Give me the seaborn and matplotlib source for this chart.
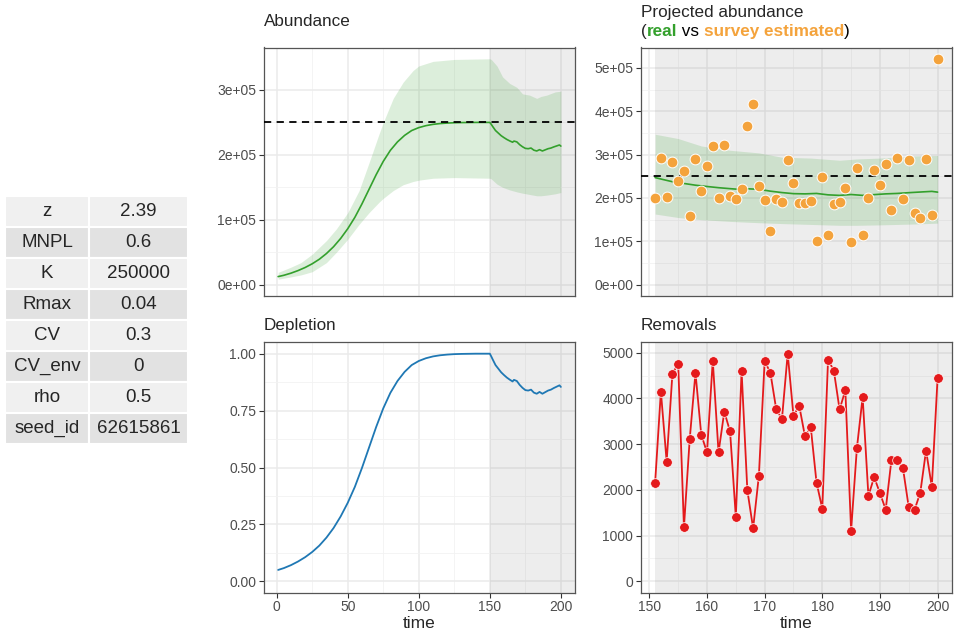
import numpy as np
import pandas as pd
import seaborn as sns
import matplotlib
matplotlib.use("Agg")
import matplotlib.pyplot as plt
import matplotlib.transforms as mtransforms

# parameter table
param_names = ["z", "MNPL", "K", "Rmax", "CV", "CV_env", "rho", "seed_id"]
param_values = ["2.39", "0.6", "250000", "0.04", "0.3", "0", "0.5", "62615861"]
K = 250000

# depletion (real trajectory)
dep_time = [1, 5, 10, 15, 20, 25, 30, 35, 40, 45, 50, 55, 60, 65, 70, 75, 80, 85, 90, 95,
            100, 105, 110, 115, 120, 125, 130, 140, 150, 151, 152, 154, 156, 158, 160, 162,
            164, 166, 167, 169, 171, 173, 175, 177, 179, 181, 183, 185, 187, 189, 191, 193,
            195, 197, 199, 200]
dep_value = [0.050, 0.058, 0.071, 0.087, 0.106, 0.129, 0.157, 0.192, 0.234, 0.285, 0.345,
             0.415, 0.498, 0.588, 0.678, 0.760, 0.828, 0.880, 0.920, 0.950, 0.968, 0.980,
             0.988, 0.993, 0.996, 0.998, 0.999, 1.000, 1.000, 0.988, 0.975, 0.950, 0.934,
             0.918, 0.906, 0.895, 0.886, 0.878, 0.885, 0.880, 0.863, 0.850, 0.840, 0.838,
             0.842, 0.829, 0.824, 0.832, 0.824, 0.831, 0.838, 0.842, 0.849, 0.855, 0.861,
             0.854]

# abundance uncertainty band
band_time = [1, 10, 17, 25, 35, 42, 50, 58, 65, 72, 75, 82, 89, 96, 100, 110, 125, 150,
             151, 155, 159, 164, 169, 173, 178, 183, 186, 190, 196, 200]
band_upper = [0.19, 0.27, 0.34, 0.47, 0.68, 0.86, 1.11, 1.45, 1.88, 2.32, 2.50, 2.87, 3.12,
              3.30, 3.37, 3.44, 3.47, 3.48, 3.47, 3.37, 3.20, 3.10, 3.04, 2.94, 2.92, 2.87,
              2.90, 2.92, 2.97, 2.98]
band_lower = [0.085, 0.12, 0.15, 0.20, 0.34, 0.50, 0.70, 0.93, 1.11, 1.27, 1.33, 1.45, 1.54,
              1.59, 1.61, 1.64, 1.65, 1.64, 1.63, 1.55, 1.50, 1.46, 1.43, 1.41, 1.39, 1.37,
              1.37, 1.38, 1.40, 1.42]

# projection period
proj_time = list(range(151, 201))
survey_est = [2.00, 2.93, 2.02, 2.82, 2.40, 2.62, 1.58, 2.91, 2.17, 2.74,
              3.21, 2.00, 3.22, 2.04, 1.97, 2.20, 3.65, 4.16, 2.28, 1.96,
              1.24, 1.97, 1.90, 2.88, 2.34, 1.88, 1.88, 1.92, 1.01, 2.49,
              1.15, 1.86, 1.90, 2.22, 0.98, 2.70, 1.15, 2.00, 2.64, 2.30,
              2.78, 1.72, 2.92, 1.97, 2.88, 1.65, 1.53, 2.89, 1.60, 5.21]
removals = [2160, 4150, 2620, 4540, 4760, 1180, 3110, 4560, 3210, 2820,
            4830, 2820, 3710, 3280, 1410, 4600, 1990, 1160, 2310, 4820,
            4560, 3770, 3550, 4980, 3620, 3840, 3170, 3370, 2160, 1590,
            4850, 4610, 3760, 4180, 1110, 2910, 4030, 1870, 2280, 1930,
            1570, 2660, 2660, 2470, 1620, 1560, 1940, 2860, 2070, 4440]

GREEN = "#33A02C"
ORANGE = "#F4A33C"
BLUE = "#1F78B4"
RED = "#E41A1C"

sns.set_theme(style="white")
plt.rcParams["font.family"] = ["Liberation Sans", "DejaVu Sans"]

dep = pd.DataFrame({"time": dep_time, "depletion": dep_value})
dep["abundance"] = dep["depletion"] * K
band = pd.DataFrame({"time": band_time,
                     "upper": np.array(band_upper) * 1e5,
                     "lower": np.array(band_lower) * 1e5})
proj = pd.DataFrame({"time": proj_time, "survey": np.array(survey_est) * 1e5,
                     "removals": removals})

W, H = 957, 635
fig = plt.figure(figsize=(W / 100, H / 100), dpi=100)


def px_axes(l, r, t, b):
    return fig.add_axes([l / W, 1 - b / H, (r - l) / W, (b - t) / H])


def style(ax, xlim, ylim, xmaj, ymaj, yfmt, xlabels=True):
    ax.set_xlim(xlim)
    ax.set_ylim(ylim)
    ax.set_xticks(xmaj)
    ax.set_xticks([(a + b) / 2 for a, b in zip(xmaj[:-1], xmaj[1:])], minor=True)
    ax.set_yticks(ymaj)
    ax.set_yticks([(a + b) / 2 for a, b in zip(ymaj[:-1], ymaj[1:])], minor=True)
    ax.set_yticklabels([yfmt(v) for v in ymaj])
    ax.grid(which="major", color="#EBEBEB", lw=1.1)
    ax.grid(which="minor", color="#F2F2F2", lw=0.6)
    ax.set_axisbelow(True)
    for s in ax.spines.values():
        s.set_color("#555555")
        s.set_linewidth(0.9)
    ax.tick_params(which="major", length=3.5, width=0.8, color="#333333",
                   labelsize=10, labelcolor="#4D4D4D", pad=2, left=True, bottom=xlabels,
                   labelbottom=xlabels)
    ax.tick_params(which="minor", length=0)
    ax.set_ylabel("")
    if xlabels:
        ax.set_xlabel("time", fontsize=12.5, labelpad=1.5)
    else:
        ax.set_xlabel("")


def title(ax, s, dy, **kw):
    tr = mtransforms.offset_copy(ax.transAxes, fig=fig, x=0, y=dy * 0.72, units="points")
    return ax.text(0, 1, s, transform=tr, ha="left", va="baseline", fontsize=12.3, **kw)


sci = lambda v: f"{v:.0e}"

# Abundance
ax1 = px_axes(264, 575, 47.5, 296)
ax1.axvspan(150, 220, color="#808080", alpha=0.14, lw=0, zorder=1)
ax1.fill_between(band["time"], band["lower"], band["upper"], color=GREEN, alpha=0.17,
                 lw=0, zorder=2)
sns.lineplot(data=dep, x="time", y="abundance", ax=ax1, color=GREEN, lw=1.2, zorder=3)
ax1.axhline(K, color="black", ls=(0, (4, 3)), lw=1.3, zorder=4)
style(ax1, (-8.95, 209.95), (-17400, 365400), [0, 50, 100, 150, 200],
      [0, 1e5, 2e5, 3e5], sci, xlabels=False)
title(ax1, "Abundance", 21.5)

# Projected abundance
ax2 = px_axes(641, 951.7, 47.5, 296)
ax2.axvspan(151, 220, color="#808080", alpha=0.14, lw=0, zorder=1)
bp = band[band["time"] >= 151]
ax2.fill_between(bp["time"], bp["lower"], bp["upper"], color=GREEN, alpha=0.17, lw=0,
                 zorder=2)
dp = dep[dep["time"] >= 151]
sns.lineplot(data=dp, x="time", y="abundance", ax=ax2, color=GREEN, lw=1.2, zorder=3)
ax2.axhline(K, color="black", ls=(0, (4, 3)), lw=1.3, zorder=4)
sns.scatterplot(data=proj, x="time", y="survey", ax=ax2, color=ORANGE, s=60,
                edgecolor="white", linewidth=0.7, zorder=5)
style(ax2, (148.55, 202.45), (-26000, 547000), [150, 160, 170, 180, 190, 200],
      [0, 1e5, 2e5, 3e5, 4e5, 5e5], sci, xlabels=False)
title(ax2, "Projected abundance", 30.5)
t = title(ax2, "(", 11.5)
for s, c, w in [("real", GREEN, "bold"), (" vs ", "black", "normal"),
                ("survey estimated", ORANGE, "bold"), (")", "black", "normal")]:
    t = ax2.annotate(s, xycoords=t, xy=(1, 0), va="bottom", ha="left", fontsize=12.3,
                     color=c, fontweight=w)

# Depletion
ax3 = px_axes(264, 575, 342.3, 592.7)
ax3.axvspan(150, 220, color="#808080", alpha=0.14, lw=0, zorder=1)
sns.lineplot(data=dep, x="time", y="depletion", ax=ax3, color=BLUE, lw=1.3, zorder=3)
style(ax3, (-8.95, 209.95), (-0.05, 1.05), [0, 50, 100, 150, 200],
      [0, 0.25, 0.5, 0.75, 1.0], lambda v: f"{v:.2f}")
title(ax3, "Depletion", 12.5)

# Removals
ax4 = px_axes(641, 951.7, 342.3, 592.7)
ax4.axvspan(151, 220, color="#808080", alpha=0.14, lw=0, zorder=1)
sns.lineplot(data=proj, x="time", y="removals", ax=ax4, color=RED, lw=1.3, zorder=3)
sns.scatterplot(data=proj, x="time", y="removals", ax=ax4, color=RED, s=48,
                edgecolor="white", linewidth=0.5, zorder=4)
style(ax4, (148.55, 202.45), (-249, 5229), [150, 160, 170, 180, 190, 200],
      [0, 1000, 2000, 3000, 4000, 5000], lambda v: f"{v:.0f}")
title(ax4, "Removals", 12)

# parameter table
axt = px_axes(5, 188, 196, 444)
axt.axis("off")
colours = [["#F0F0F0"] * 2 if i % 2 == 0 else ["#E2E2E2"] * 2 for i in range(len(param_names))]
tbl = axt.table(cellText=[[n, v] for n, v in zip(param_names, param_values)],
                cellColours=colours, colWidths=[84 / 183, 99 / 183], cellLoc="center",
                bbox=[0, 0, 1, 1])
tbl.auto_set_font_size(False)
tbl.set_fontsize(13.5)
for cell in tbl.get_celld().values():
    cell.set_edgecolor("white")
    cell.set_linewidth(1.5)

fig.savefig("out.png", dpi=100)
